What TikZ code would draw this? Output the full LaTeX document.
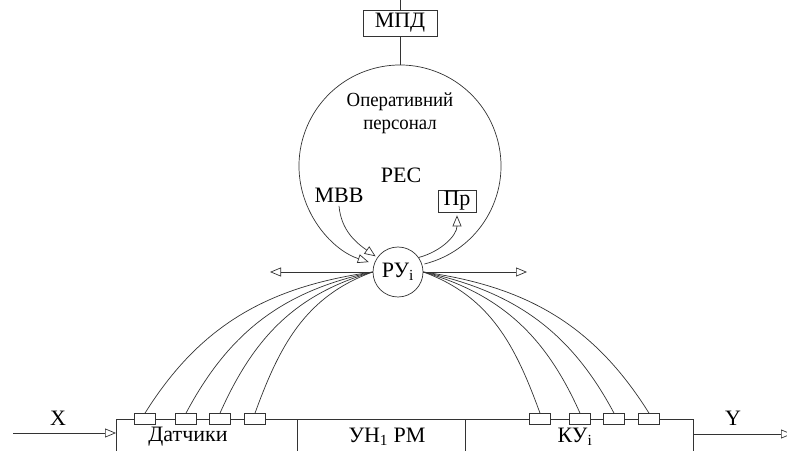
\documentclass[tikz,border=0pt]{standalone}
\usepackage{fontspec}
\setmainfont{Liberation Serif}
\newfontfamily\narrowfont{Liberation Serif}[FakeStretch=0.94]
\usepackage{tikz}
\usetikzlibrary{arrows.meta, calc}
\tikzset{>={Triangle[open, length=11pt, width=9pt]}, font=\fontsize{22}{26}\selectfont}
\tikzset{box/.style={shape=rectangle, draw, fill=white, inner sep=0pt},
    sensor/.style={box, minimum width=21pt, minimum height=11pt},
    part/.style={shape=rectangle, draw, anchor=north west,
    minimum height=36pt, inner sep=0pt}}

\begin{document}
\begin{tikzpicture}[x=1pt, y=1pt, line width=.7pt, color=black!80, text=black]
      \useasboundingbox (0,0) rectangle (787,450);
      % upper part
      \coordinate (top) at (400,450);
      \node[box, minimum width=74pt, minimum height=26pt] (mpd) at (400,427) {МПД};
      \node[circle, minimum size=202pt, inner sep=0pt, outer sep=0pt] (pes) at (400,284) {};
      \node[circle, draw, fill=white, minimum size=50pt, inner sep=0pt] (ru) at (398,178) {РУ\textsubscript{i}};
      \node[align=center, font=\narrowfont\fontsize{20}{23}\selectfont] (op) at (400,337) {Оперативний\\персонал};
      \node (res) at (401,275) {РЕС};
      \node (mvv) at (339,255) {МВВ};
      \node[box, minimum width=38pt, minimum height=22pt] (pr) at (457,249) {Пр};
      \draw (top) -- (mpd) -- (pes);
      \draw[->] (pes.-76) arc[start angle=-76, end angle=252, radius=101pt];
      \draw[->, shorten >=2pt] (mvv.south) to[out=-85, in=145] (ru.145);
      \draw[->, shorten >=3pt] (ru.35) to[out=15, in=-90] (pr.south);
      \coordinate (la) at (270,178);
      \coordinate (ra) at (527,178);
      \draw[->] (ru.west) -- (la);
      \draw[->] (ru.east) -- (ra);
      %%%%%%%%%
      \node[part, minimum width=181pt] (dat) at (116,31) {};
      \node[part, minimum width=168pt] (un) at (297,31) {};
      \node[part, minimum width=228pt] (ku) at (465,31) {};
      \node (datl) at (188,13) {Датчики};
      \node (unl) at (387,13) {УН\textsubscript{1} РМ};
      \node (kul) at (575,13) {КУ\textsubscript{i}};
      \foreach \x [count=\i] in {145,186,220,255} \node[sensor] (s\i) at (\x,31) {};
      \foreach \x [count=\i] in {540,580,614,649} \node[sensor] (k\i) at (\x,31) {};
      \foreach \i/\o/\n in {1/58/188, 2/62/192, 3/66/196, 4/70/200}
        \draw (s\i.north) to[out=\o, in=\n] (ru.west);
      \foreach \i/\o/\n in {1/110/-20, 2/114/-16, 3/118/-12, 4/122/-8}
        \draw (k\i.north) to[out=\o, in=\n] (ru.east);
      \node (xlab) at (58,32) {X};
      \node (ylab) at (733,32) {Y};
      \coordinate (xin) at (13,17);
      \coordinate (yout) at (792,16);
      \draw[->] (xin) -- (xin -| dat.west);
      \draw[->] (yout -| ku.east) -- (yout);
    \end{tikzpicture}
\end{document}
